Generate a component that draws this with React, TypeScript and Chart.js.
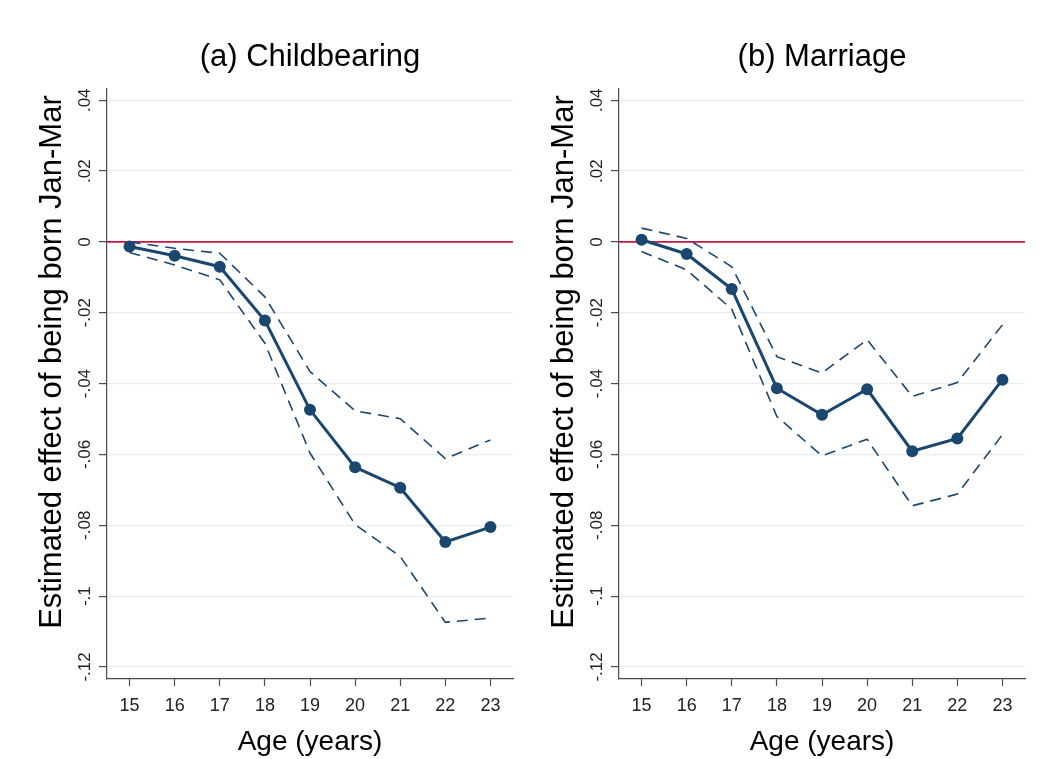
import React, { useEffect, useRef } from 'react';
import { Chart, registerables } from 'chart.js';

Chart.register(...registerables);

// ---- data ----
const AGES = [15, 16, 17, 18, 19, 20, 21, 22, 23];

const CHILD_EST = [-0.0013, -0.0039, -0.007, -0.0222, -0.0474, -0.0636, -0.0694, -0.0847, -0.0805];
const CHILD_UPPER = [0.0, -0.0018, -0.0032, -0.0155, -0.0366, -0.0477, -0.0499, -0.0612, -0.0559];
const CHILD_LOWER = [-0.003, -0.0065, -0.0107, -0.0286, -0.0596, -0.0798, -0.0888, -0.1074, -0.1062];

const MARR_EST = [0.0006, -0.0034, -0.0133, -0.0413, -0.0488, -0.0416, -0.0591, -0.0555, -0.0389];
const MARR_UPPER = [0.0039, 0.001, -0.007, -0.0324, -0.037, -0.0276, -0.0436, -0.0397, -0.0234];
const MARR_LOWER = [-0.0027, -0.0079, -0.019, -0.0493, -0.0604, -0.0557, -0.0745, -0.0712, -0.0544];

const Y_TICKS = [-0.12, -0.1, -0.08, -0.06, -0.04, -0.02, 0, 0.02, 0.04];
const Y_TICK_LABELS = ['-.12', '-.1', '-.08', '-.06', '-.04', '-.02', '0', '.02', '.04'];
const X_TICK_LABELS = ['15', '16', '17', '18', '19', '20', '21', '22', '23'];

const X_MIN = 14.5;
const X_MAX = 23.5;
const Y_MIN = -0.1234;
const Y_MAX = 0.0434;
const REF_Y = 0;

const TITLES = ['(a) Childbearing', '(b) Marriage'];
const X_TITLE = 'Age (years)';
// leading spaces nudge the centred vertical title upward, as in the original
const Y_TITLE = '     Estimated effect of being born Jan-Mar';

// ---- styles ----
const FONT = "'Liberation Sans', Arial, Helvetica, sans-serif";
const NAVY = '#1a476f';
const RED = '#c8163e';
const GRID = '#e9ecee';
const AXIS = '#4a4a4a';

const refLinePlugin = {
  id: 'refLine',
  beforeDatasetsDraw(chart: any) {
    const { ctx, chartArea, scales } = chart;
    const y = scales.y.getPixelForValue(REF_Y);
    ctx.save();
    ctx.strokeStyle = RED;
    ctx.lineWidth = 1.6;
    ctx.beginPath();
    ctx.moveTo(chartArea.left, y);
    ctx.lineTo(chartArea.right, y);
    ctx.stroke();
    ctx.restore();
  },
};

type PanelProps = {
  title: string;
  est: number[];
  upper: number[];
  lower: number[];
  left: number;
};

function Panel({ title, est, upper, lower, left }: PanelProps) {
  const ref = useRef<HTMLCanvasElement | null>(null);

  useEffect(() => {
    if (!ref.current) return;
    const toPts = (arr: number[]) => AGES.map((a, i) => ({ x: a, y: arr[i] }));
    const chart = new Chart(ref.current, {
      type: 'line',
      data: {
        datasets: [
          {
            data: toPts(est),
            borderColor: NAVY,
            backgroundColor: NAVY,
            borderWidth: 3,
            pointRadius: 6,
            pointBackgroundColor: NAVY,
            pointBorderWidth: 0,
            fill: false,
            tension: 0,
          },
          {
            data: toPts(upper),
            borderColor: NAVY,
            borderWidth: 1.6,
            borderDash: [11, 7],
            pointRadius: 0,
            fill: false,
            tension: 0,
          },
          {
            data: toPts(lower),
            borderColor: NAVY,
            borderWidth: 1.6,
            borderDash: [11, 7],
            pointRadius: 0,
            fill: false,
            tension: 0,
          },
        ],
      },
      options: {
        animation: false,
        responsive: false,
        devicePixelRatio: 1,
        events: [],
        layout: { padding: { left: 0, right: 7, top: 0, bottom: 0 } },
        plugins: {
          legend: { display: false },
          tooltip: { enabled: false },
          title: {
            display: true,
            fullSize: false,
            text: title,
            color: '#000',
            font: { family: FONT, size: 31, weight: 'normal', lineHeight: 1.2 },
            padding: { top: 39, bottom: 12 },
          },
        },
        scales: {
          x: {
            type: 'linear',
            min: X_MIN,
            max: X_MAX,
            afterBuildTicks: (s: any) => {
              s.ticks = AGES.map((v) => ({ value: v }));
            },
            afterFit: (s: any) => {
              s.height = 80;
            },
            grid: {
              drawOnChartArea: false,
              drawTicks: true,
              tickLength: 7,
              tickColor: AXIS,
              tickWidth: 1.2,
            },
            border: { display: true, color: AXIS, width: 1.2 },
            ticks: {
              autoSkip: false,
              maxRotation: 0,
              minRotation: 0,
              padding: 9,
              color: '#222',
              font: { family: FONT, size: 18 },
              callback: (_v: any, i: number) => X_TICK_LABELS[i],
            },
            title: {
              display: true,
              text: X_TITLE,
              color: '#000',
              font: { family: FONT, size: 28, lineHeight: 1.2 },
              padding: { top: 0, bottom: 0 },
            },
          },
          y: {
            type: 'linear',
            min: Y_MIN,
            max: Y_MAX,
            afterBuildTicks: (s: any) => {
              s.ticks = Y_TICKS.map((v) => ({ value: v }));
            },
            afterFit: (s: any) => {
              s.width = 107;
            },
            grid: {
              color: GRID,
              lineWidth: 1.2,
              drawTicks: true,
              tickLength: 8,
              tickColor: AXIS,
              tickWidth: 1.2,
            },
            border: { display: true, color: AXIS, width: 1.2 },
            ticks: {
              autoSkip: false,
              minRotation: 90,
              maxRotation: 90,
              crossAlign: 'center',
              padding: -1,
              color: '#222',
              font: { family: FONT, size: 17 },
              callback: (_v: any, i: number) => Y_TICK_LABELS[i],
            },
            title: {
              display: true,
              text: Y_TITLE,
              color: '#000',
              font: { family: FONT, size: 31, lineHeight: 1.2 },
              padding: { top: 34, bottom: 0 },
            },
          },
        },
      },
      plugins: [refLinePlugin],
    } as any);
    return () => chart.destroy();
  }, [title, est, upper, lower]);

  return (
    <div style={{ position: 'absolute', left, top: 0, width: 520, height: 759 }}>
      <canvas ref={ref} width={520} height={759} style={{ width: 520, height: 759, display: 'block' }} />
    </div>
  );
}

export default function App() {
  return (
    <div
      style={{
        position: 'fixed',
        left: 0,
        top: 0,
        width: 1045,
        height: 759,
        background: '#fff',
        overflow: 'hidden',
      }}
    >
      <Panel title={TITLES[0]} est={CHILD_EST} upper={CHILD_UPPER} lower={CHILD_LOWER} left={0} />
      <Panel title={TITLES[1]} est={MARR_EST} upper={MARR_UPPER} lower={MARR_LOWER} left={512} />
    </div>
  );
}
